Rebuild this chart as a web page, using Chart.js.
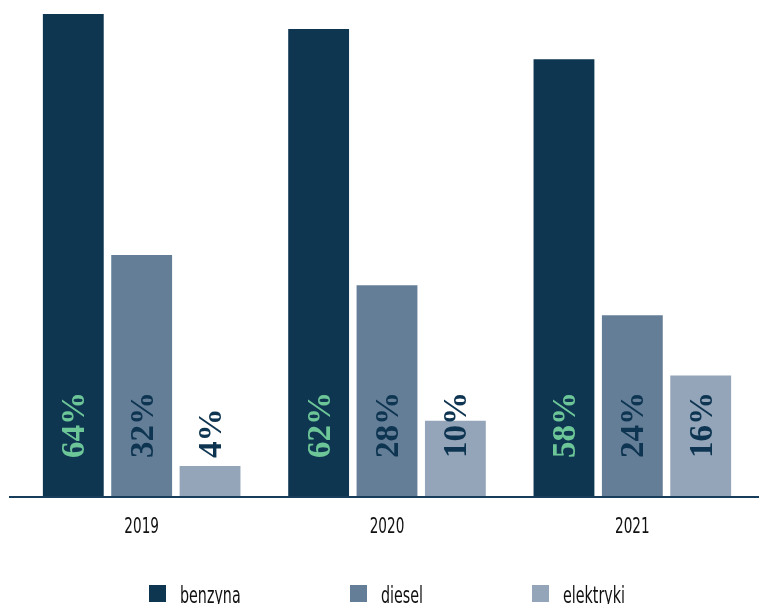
<!DOCTYPE html>
<html lang="pl">
<head>
<meta charset="utf-8">
<title>benzyna / diesel / elektryki</title>
<script src="https://cdn.jsdelivr.net/npm/chart.js@4"></script>
<style>
    html, body { margin: 0; padding: 0; background: #fff; overflow: hidden; }
    .wrap { position: relative; width: 759px; height: 604px; overflow: hidden; }
    #fuelChart { display: block; }
    .legend .item {
        position: absolute; top: 585px; height: 30px; white-space: nowrap;
        font-family: "DejaVu Sans Condensed", "Liberation Sans Narrow", sans-serif;
        font-size: 23px; color: #111; line-height: 23px;
    }
    .legend .box { position: absolute; left: 0; top: 0; width: 17px; height: 17px; }
    .legend .txt {
        position: absolute; left: 31px; top: -1px;
        transform: scaleX(0.69); transform-origin: left top;
    }
</style>
</head>
<body>
<div class="wrap">
    <canvas id="fuelChart" width="759" height="604"></canvas>
    <div class="legend" id="legend"></div>
</div>
<script>
// --- data ---
const years = ['2019', '2020', '2021'];
const seriesNames = ['benzyna', 'diesel', 'elektryki'];
const benzyna = [64, 62, 58];
const diesel = [32, 28, 24];
const elektryki = [4, 10, 16];

const barColors = ['#0e3651', '#647e98', '#94a5ba'];
const labelColors = ['#6dc698', '#0d3450', '#0d3450'];
const NAVY = '#173d5a';
const legendLeft = [149, 350, 532];

// percent labels, rotated, starting a fixed distance above the baseline
const valueLabels = {
    id: 'valueLabels',
    afterDatasetsDraw(chart) {
        const ctx = chart.ctx;
        const base = chart.scales.y.getPixelForValue(0);
        ctx.save();
        ctx.font = 'bold 33px "Liberation Serif", "DejaVu Serif", serif';
        ctx.textAlign = 'left';
        ctx.textBaseline = 'alphabetic';
        chart.data.datasets.forEach((ds, i) => {
            const meta = chart.getDatasetMeta(i);
            meta.data.forEach((bar, j) => {
                ctx.save();
                ctx.translate(bar.x, base - 38);
                ctx.rotate(-Math.PI / 2);
                ctx.fillStyle = labelColors[i];
                ctx.fillText(ds.data[j] + '%', 0, 11);
                ctx.restore();
            });
        });
        ctx.restore();
    }
};

// baseline under the bars + condensed year labels under each group
const baseAxis = {
    id: 'baseAxis',
    afterDatasetsDraw(chart) {
        const ctx = chart.ctx;
        const x = chart.scales.x;
        const y = chart.scales.y.getPixelForValue(0);
        ctx.save();
        ctx.strokeStyle = NAVY;
        ctx.lineWidth = 2;
        ctx.beginPath();
        ctx.moveTo(9, y + 1);
        ctx.lineTo(chart.width, y + 1);
        ctx.stroke();

        ctx.fillStyle = '#111';
        ctx.font = '21px "DejaVu Sans Condensed", sans-serif';
        ctx.textAlign = 'center';
        ctx.textBaseline = 'alphabetic';
        years.forEach((yr, i) => {
            ctx.save();
            ctx.translate(x.getPixelForValue(i), y + 37);
            ctx.scale(0.72, 1);
            ctx.fillText(yr, 0, 0);
            ctx.restore();
        });
        ctx.restore();
    }
};

const seriesData = [benzyna, diesel, elektryki];

new Chart(document.getElementById('fuelChart').getContext('2d'), {
    type: 'bar',
    data: {
        labels: years,
        datasets: seriesNames.map((name, i) => ({
            label: name,
            data: seriesData[i],
            backgroundColor: barColors[i],
            borderWidth: 0,
            categoryPercentage: 0.836,
            barPercentage: 0.89
        }))
    },
    options: {
        responsive: false,
        animation: false,
        layout: { padding: { top: 14, left: 19, right: 4, bottom: 108 } },
        plugins: {
            legend: { display: false },
            tooltip: { enabled: false }
        },
        scales: {
            x: {
                grid: { display: false, drawTicks: false },
                border: { display: false },
                ticks: { display: false }
            },
            y: {
                display: false,
                min: 0,
                max: 64
            }
        }
    },
    plugins: [baseAxis, valueLabels]
});

// legend built from the same series
const legend = document.getElementById('legend');
seriesNames.forEach((name, i) => {
    const item = document.createElement('div');
    item.className = 'item';
    item.style.left = legendLeft[i] + 'px';
    item.innerHTML = `<span class="box" style="background:${barColors[i]}"></span><span class="txt">${name}</span>`;
    legend.appendChild(item);
});
</script>
</body>
</html>
